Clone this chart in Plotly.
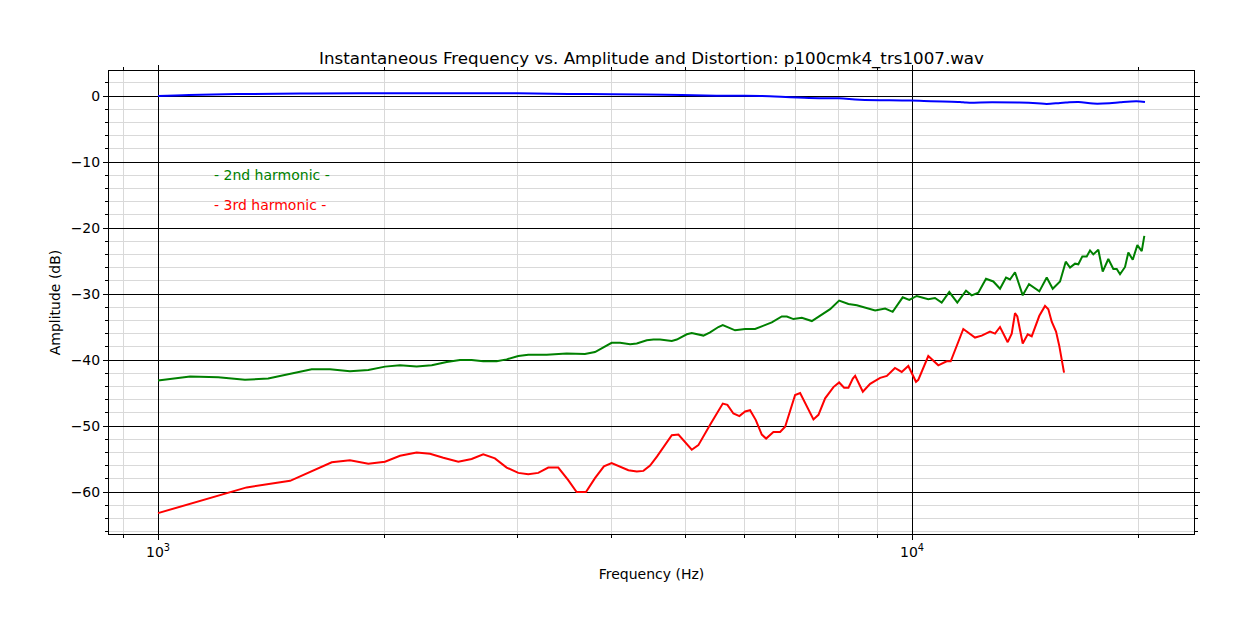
import plotly.graph_objects as go
import math

# ---------------- data ----------------
fund_freq = [1000, 1100, 1300, 1600, 2000, 2500, 3000, 3500, 4000, 4700, 5500, 6000, 6300,
             7300, 8000, 8530, 9960, 11580, 11800, 12770, 13870, 14650, 15090, 15720, 16000,
             16630, 17390, 18280, 18880, 19850, 20370]
fund_db = [0.0, 0.15, 0.3, 0.38, 0.42, 0.42, 0.4, 0.32, 0.25, 0.2, 0.05, 0.05, 0.0,
           -0.3, -0.35, -0.55, -0.7, -0.9, -1.0, -0.95, -1.0, -1.1, -1.2, -1.05, -1.0,
           -0.9, -1.15, -1.1, -0.95, -0.8, -0.9]

h2_freq = [1000, 1103, 1202, 1304, 1400, 1599, 1691, 1797, 1901, 2000, 2094, 2203, 2307, 2415,
           2515, 2606, 2700, 2813, 2900, 3005, 3098, 3277, 3483, 3683, 3798, 3895, 3996, 4101,
           4228, 4315, 4449, 4540, 4633, 4802, 4876, 5027, 5104, 5289, 5398, 5536, 5611, 5826,
           6007, 6193, 6352, 6517, 6719, 6823, 6962, 7143, 7365, 7630, 7788, 8005, 8236, 8450,
           8712, 8935, 9213, 9427, 9720, 9918, 10145, 10510, 10727, 10949, 11206, 11484, 11793,
           12000, 12245, 12536, 12819, 13084, 13326, 13489, 13697, 14023, 14296, 14753, 15090,
           15369, 15716, 15992, 16203, 16452, 16619, 16823, 17050, 17223, 17397, 17665, 17904,
           18213, 18494, 18687, 18876, 19167, 19361, 19623, 19901, 20170, 20330]
h2_db = [-43.1, -42.5, -42.6, -43.0, -42.8, -41.4, -41.4, -41.7, -41.5, -41.0, -40.8, -41.0,
         -40.8, -40.3, -40.0, -40.0, -40.2, -40.2, -39.9, -39.4, -39.2, -39.2, -39.0, -39.1,
         -38.8, -38.1, -37.4, -37.4, -37.6, -37.5, -37.0, -36.9, -36.9, -37.1, -36.9, -36.1,
         -35.9, -36.3, -35.8, -35.0, -34.7, -35.5, -35.3, -35.3, -34.8, -34.3, -33.4, -33.4,
         -33.8, -33.6, -34.1, -33.0, -32.3, -31.0, -31.5, -31.7, -32.1, -32.5, -32.2, -32.7,
         -30.5, -30.9, -30.3, -30.8, -30.6, -31.3, -29.7, -31.3, -29.5, -30.2, -29.8, -27.7,
         -28.1, -29.2, -27.5, -27.8, -26.7, -30.2, -28.5, -29.6, -27.5, -29.2, -28.1, -25.1,
         -26.0, -25.4, -25.5, -24.3, -24.3, -23.4, -24.0, -23.3, -26.6, -24.7, -26.2, -26.2,
         -27.0, -25.9, -23.7, -24.8, -22.6, -23.5, -21.2]

h3_freq = [1000, 1311, 1497, 1700, 1797, 1901, 2000, 2094, 2203, 2295, 2390, 2502, 2606, 2700,
           2798, 2900, 3005, 3098, 3194, 3293, 3395, 3500, 3591, 3695, 3798, 3903, 3996, 4101,
           4206, 4315, 4403, 4494, 4591, 4802, 4900, 5104, 5208, 5398, 5611, 5691, 5796, 5903,
           6007, 6099, 6207, 6321, 6405, 6549, 6685, 6788, 6998, 7106, 7253, 7401, 7515, 7670,
           7867, 8005, 8128, 8236, 8347, 8406, 8606, 8800, 9073, 9261, 9493, 9690, 9888, 10123,
           10194, 10510, 10836, 11117, 11255, 11696, 12122, 12373, 12691, 12886, 13084, 13395,
           13560, 13697, 13794, 14023, 14239, 14414, 14753, 15012, 15164, 15322, 15525, 15682,
           15909]
h3_db = [-63.2, -59.3, -58.3, -55.5, -55.2, -55.7, -55.4, -54.5, -54.0, -54.2, -54.8, -55.4,
         -55.0, -54.3, -54.9, -56.3, -57.1, -57.3, -57.1, -56.3, -56.3, -58.2, -60.0, -60.0,
         -57.9, -56.1, -55.6, -56.2, -56.7, -56.9, -56.8, -56.0, -54.6, -51.4, -51.3, -53.6,
         -52.9, -49.8, -46.6, -46.8, -48.1, -48.5, -47.8, -47.6, -49.1, -51.3, -51.9, -50.9,
         -50.9, -50.1, -45.3, -45.0, -47.1, -49.0, -48.3, -45.8, -44.1, -43.4, -44.2, -44.2,
         -42.8, -42.4, -44.8, -43.6, -42.7, -42.4, -41.2, -41.8, -40.9, -43.3, -43.0, -39.4,
         -40.8, -40.2, -40.2, -35.3, -36.6, -36.3, -35.7, -36.0, -35.0, -37.3, -36.0, -32.9,
         -33.4, -37.5, -36.1, -36.4, -33.3, -31.8, -32.3, -34.2, -35.7, -37.9, -41.9]

x_major = [1000, 10000]
x_major_text = ["10<sup>3</sup>", "10<sup>4</sup>"]
x_minor = [900, 2000, 3000, 4000, 5000, 6000, 7000, 8000, 9000, 20000]
y_major = [0, -10, -20, -30, -40, -50, -60]
y_major_text = ["0", "\u221210", "\u221220", "\u221230", "\u221240", "\u221250", "\u221260"]
y_minor = [2, -2, -4, -6, -8, -12, -14, -16, -18, -22, -24, -26, -28, -32, -34, -36, -38,
           -42, -44, -46, -48, -52, -54, -56, -58, -62, -64, -66]

title_text = "Instantaneous Frequency vs. Amplitude and Distortion: p100cmk4_trs1007.wav"
label_2nd = "- 2nd harmonic -"
label_3rd = "- 3rd harmonic -"

# ---------------- figure ----------------
FONT = "DejaVu Sans"
fig = go.Figure()
fig.add_trace(go.Scatter(x=fund_freq, y=fund_db, mode="lines", name="fundamental",
                         line=dict(color="#0000ff", width=2), line_shape="spline"))
fig.add_trace(go.Scatter(x=h2_freq, y=h2_db, mode="lines", name="2nd harmonic",
                         line=dict(color="#008000", width=2)))
fig.add_trace(go.Scatter(x=h3_freq, y=h3_db, mode="lines", name="3rd harmonic",
                         line=dict(color="#ff0000", width=2)))

fig.add_annotation(x=math.log10(1178), y=-12.0, xref="x", yref="y", text=label_2nd,
                   showarrow=False, xanchor="left", yanchor="middle",
                   font=dict(family=FONT, size=14, color="#008000"))
fig.add_annotation(x=math.log10(1178), y=-16.5, xref="x", yref="y", text=label_3rd,
                   showarrow=False, xanchor="left", yanchor="middle",
                   font=dict(family=FONT, size=14, color="#ff0000"))

fig.update_layout(
    width=1248, height=632,
    margin=dict(l=109, r=54, t=71, b=98),
    paper_bgcolor="white", plot_bgcolor="white",
    showlegend=False,
    font=dict(family=FONT, size=14, color="black"),
    title=dict(text=title_text, x=0.5, xref="paper", y=1 - 58 / 632, yref="container",
               xanchor="center", yanchor="middle",
               font=dict(family=FONT, size=16.7, color="black")),
)
fig.update_xaxes(
    type="log", range=[2.93501, 4.37401], autorange=False,
    tickmode="array", tickvals=x_major, ticktext=x_major_text,
    ticks="outside", ticklen=5, tickwidth=1, tickcolor="black",
    showline=True, linecolor="black", linewidth=1, mirror="ticks",
    showgrid=True, gridcolor="black", gridwidth=1, zeroline=False,
    minor=dict(tickmode="array", tickvals=x_minor, ticks="outside", ticklen=3,
               tickcolor="black", tickwidth=1, showgrid=True, gridcolor="#d9d9d9", gridwidth=1),
    title=dict(text="Frequency (Hz)", font=dict(family=FONT, size=14), standoff=10),
    tickfont=dict(family=FONT, size=14),
)
fig.update_yaxes(
    range=[-66.36, 3.788], autorange=False,
    tickmode="array", tickvals=y_major, ticktext=y_major_text,
    ticks="outside", ticklen=5, tickwidth=1, tickcolor="black",
    showline=True, linecolor="black", linewidth=1, mirror="ticks",
    showgrid=True, gridcolor="black", gridwidth=1, zeroline=False,
    minor=dict(tickmode="array", tickvals=y_minor, ticks="outside", ticklen=3,
               tickcolor="black", tickwidth=1, showgrid=True, gridcolor="#d9d9d9", gridwidth=1),
    title=dict(text="Amplitude (dB)", font=dict(family=FONT, size=14), standoff=6),
    tickfont=dict(family=FONT, size=14),
)

fig.write_html("out.html")
